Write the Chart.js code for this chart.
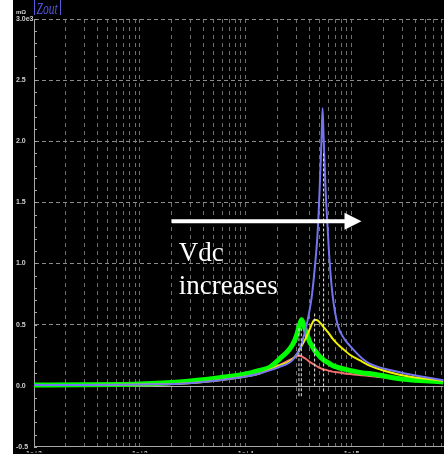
<!DOCTYPE html>
<html>
<head>
<meta charset="utf-8">
<script src="https://cdn.jsdelivr.net/npm/chart.js@4.4.0/dist/chart.umd.min.js"></script>
<style>
  html, body { margin: 0; padding: 0; background: #fff; }
  #wrap { position: absolute; left: 13px; top: 0; width: 431px; height: 454px; background: #000; }
</style>
</head>
<body>
<div id="wrap"><canvas id="zout"></canvas></div>
<script>
// frequency points (Hz), shared by the four traces
const freqHz = [100, 272, 648, 1000, 2384, 5685, 10000, 13550, 16840, 20930, 26010, 28990,
  30940, 32310, 33750, 35250, 36820, 40160, 41950, 44780, 47790, 49910, 52120, 53260,
  54430, 56840, 59360, 62000, 66190, 73790, 85900, 95750, 127000, 147800, 283800, 737900];

const zoutBlue = [0.005, 0.006, 0.008, 0.010, 0.016, 0.045, 0.075, 0.10, 0.125, 0.155, 0.19, 0.23,
  0.27, 0.30, 0.34, 0.40, 0.46, 0.62, 0.72, 0.95, 1.25, 1.60, 2.04, 2.27,
  2.04, 1.60, 1.30, 1.02, 0.74, 0.50, 0.38, 0.33, 0.22, 0.18, 0.11, 0.045];
const zoutYellow = [0.005, 0.006, 0.008, 0.010, 0.016, 0.045, 0.075, 0.10, 0.13, 0.165, 0.20, 0.235,
  0.265, 0.295, 0.325, 0.355, 0.385, 0.46, 0.50, 0.54, 0.535, 0.52, 0.50, 0.49,
  0.48, 0.46, 0.44, 0.42, 0.385, 0.34, 0.29, 0.255, 0.195, 0.165, 0.09, 0.04];
const zoutGreen = [0.005, 0.007, 0.010, 0.013, 0.030, 0.065, 0.095, 0.125, 0.15, 0.22, 0.30, 0.37,
  0.44, 0.50, 0.54, 0.50, 0.45, 0.36, 0.33, 0.29, 0.26, 0.24, 0.225, 0.22,
  0.21, 0.20, 0.19, 0.18, 0.165, 0.15, 0.135, 0.125, 0.105, 0.10, 0.057, 0.03];
const zoutRed = [0.005, 0.006, 0.008, 0.010, 0.020, 0.050, 0.080, 0.11, 0.14, 0.17, 0.21, 0.23,
  0.243, 0.245, 0.24, 0.23, 0.22, 0.195, 0.185, 0.17, 0.155, 0.145, 0.14, 0.135,
  0.13, 0.13, 0.125, 0.12, 0.115, 0.11, 0.10, 0.095, 0.085, 0.08, 0.055, 0.03];

// cursor markers at the peaks
const markerFreq = [31830, 33530, 44780, 54430];
const markerTop = [0.47, 0.47, 0.59, 1.9];
const markerBottom = [-0.1, -0.1, 0.0, -0.06];

const xDecades = [100, 1000, 10000, 100000];
const xTickLabels = ['1e+2', '1e+3', '1e+4', '1e+5'];
const yMajor = [-0.5, 0, 0.5, 1, 1.5, 2, 2.5, 3];
const yTickLabels = ['-0.5', '0.0', '0.5', '1.0', '1.5', '2.0', '2.5', '3.0e3'];

const arrowFrom = {x: 2004, y: 1.345};
const arrowTo = {x: 124200, y: 1.345};
const noteText = ['Vdc', 'increases'];
const noteX = 2333;
const noteY = [1.02, 0.75];

const X_MIN = 100, X_MAX = 737900;

// grid positions: 1..9 per decade, 0.1 steps on y
const xGrid = [];
xDecades.forEach(d => { for (let m = 1; m <= 9; m++) if (m * d <= X_MAX) xGrid.push(m * d); });
const yGrid = [];
for (let i = -5; i <= 30; i++) yGrid.push(i / 10);

const isMajor = v => yMajor.some(m => Math.abs(m - v) < 1e-6);
const pts = vals => freqHz.map((f, i) => ({x: f, y: vals[i]}));

const trace = (vals, color, width) => ({
    data: pts(vals),
    borderColor: color,
    borderWidth: width,
    pointRadius: 0,
    cubicInterpolationMode: 'monotone',
    fill: false
});

const markers = markerFreq.map((f, i) => ({
    data: [{x: f, y: markerTop[i]}, {x: f, y: markerBottom[i]}],
    borderColor: '#e6e6e6',
    borderWidth: 1,
    borderDash: [3, 2],
    pointRadius: 0,
    fill: false
}));

const overlay = {
    id: 'overlay',
    beforeDatasetsDraw(chart) {
        const {ctx, chartArea: a, scales: {y}} = chart;
        ctx.save();
        // solid zero line
        const y0 = Math.round(y.getPixelForValue(0)) + 0.5;
        ctx.strokeStyle = '#b4b4b4';
        ctx.lineWidth = 1;
        ctx.beginPath();
        ctx.moveTo(a.left, y0);
        ctx.lineTo(a.right, y0);
        ctx.stroke();
        // small ticks inside the y axis
        ctx.strokeStyle = '#a8a8a8';
        yGrid.forEach(v => {
            const py = Math.round(y.getPixelForValue(v)) + 0.5;
            ctx.beginPath();
            ctx.moveTo(a.left, py);
            ctx.lineTo(a.left + 3, py);
            ctx.stroke();
        });
        ctx.restore();
    },
    afterDatasetsDraw(chart) {
        const {ctx, chartArea: a, scales: {x, y}} = chart;
        ctx.save();
        // arrow
        const ax0 = x.getPixelForValue(arrowFrom.x);
        const ax1 = x.getPixelForValue(arrowTo.x);
        const ay = y.getPixelForValue(arrowFrom.y);
        ctx.strokeStyle = '#fff';
        ctx.fillStyle = '#fff';
        ctx.lineWidth = 4;
        ctx.beginPath();
        ctx.moveTo(ax0, ay);
        ctx.lineTo(ax1 - 14, ay);
        ctx.stroke();
        ctx.beginPath();
        ctx.moveTo(ax1, ay);
        ctx.lineTo(ax1 - 17, ay - 8.5);
        ctx.lineTo(ax1 - 17, ay + 8.5);
        ctx.closePath();
        ctx.fill();
        // note
        ctx.font = '27px "Liberation Serif"';
        ctx.textAlign = 'left';
        ctx.textBaseline = 'alphabetic';
        noteText.forEach((s, i) => ctx.fillText(s, x.getPixelForValue(noteX), y.getPixelForValue(noteY[i])));
        // title box
        ctx.strokeStyle = '#5a5ad8';
        ctx.lineWidth = 1;
        ctx.beginPath();
        ctx.moveTo(a.left + 0.5, 0);
        ctx.lineTo(a.left + 0.5, 15);
        ctx.moveTo(a.left + 26.5, 0);
        ctx.lineTo(a.left + 26.5, 15);
        ctx.stroke();
        ctx.fillStyle = '#5656e6';
        ctx.font = 'italic 16px "Liberation Serif"';
        ctx.save();
        ctx.translate(a.left + 2.5, 14);
        ctx.scale(0.72, 1);
        ctx.fillText('Zout', 0, 0);
        ctx.restore();
        // unit
        ctx.fillStyle = '#d0d0d0';
        ctx.font = 'bold 6px "Liberation Sans"';
        ctx.fillText('mΩ', 3, 14);
        ctx.restore();
    }
};

new Chart(document.getElementById('zout'), {
    type: 'line',
    data: {
        datasets: [
            ...markers,
            trace(zoutBlue, '#7474ee', 2),
            trace(zoutYellow, '#f2f200', 2),
            trace(zoutGreen, '#00ff00', 5),
            trace(zoutRed, '#f07070', 2)
        ]
    },
    options: {
        responsive: true,
        maintainAspectRatio: false,
        animation: false,
        layout: {padding: {left: 3, top: 19, right: 0, bottom: 0}},
        plugins: {legend: {display: false}, tooltip: {enabled: false}},
        scales: {
            x: {
                type: 'logarithmic',
                min: X_MIN,
                max: X_MAX,
                afterBuildTicks: s => { s.ticks = xGrid.map(v => ({value: v})); },
                afterFit: s => { s.height = 6; },
                grid: {
                    color: c => (c.tick && c.tick.value === X_MIN) ? 'rgba(0,0,0,0)' : '#6e6e6e',
                    drawTicks: false
                },
                border: {color: '#a8a8a8', dash: [4, 4]},
                ticks: {
                    autoSkip: false,
                    maxRotation: 0,
                    padding: 3,
                    color: '#c8c8c8',
                    font: {size: 7, weight: 'bold', family: 'Liberation Sans'},
                    callback: v => {
                        const i = xDecades.indexOf(v);
                        return i < 0 ? '' : xTickLabels[i];
                    }
                }
            },
            y: {
                min: -0.5,
                max: 3,
                afterBuildTicks: s => { s.ticks = yGrid.map(v => ({value: v})); },
                afterFit: s => { s.width = 18; },
                grid: {
                    color: c => (c.tick && isMajor(c.tick.value) && Math.abs(c.tick.value) > 1e-6) ? '#8c8c8c' : 'rgba(0,0,0,0)',
                    drawTicks: false
                },
                border: {color: '#a8a8a8', dash: [4, 3]},
                ticks: {
                    autoSkip: false,
                    crossAlign: 'far',
                    padding: 3,
                    color: '#d0d0d0',
                    font: {size: 7, weight: 'bold', family: 'Liberation Sans'},
                    callback: v => {
                        const i = yMajor.findIndex(m => Math.abs(m - v) < 1e-6);
                        return i < 0 ? '' : yTickLabels[i];
                    }
                }
            }
        }
    },
    plugins: [overlay]
});
</script>
</body>
</html>
